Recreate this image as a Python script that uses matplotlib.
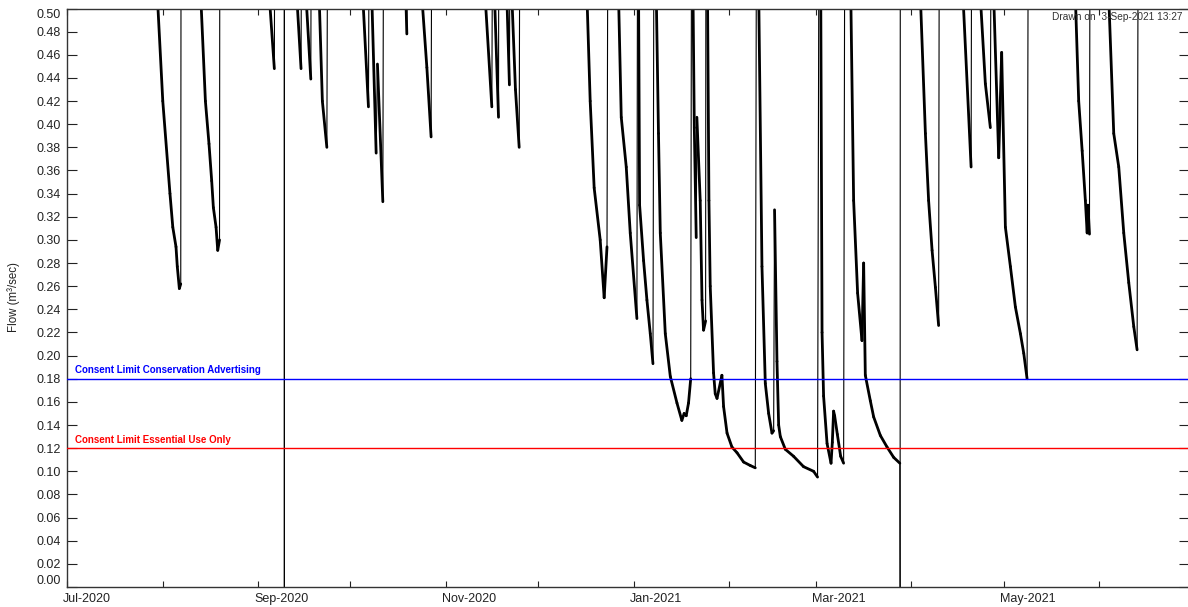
import matplotlib
matplotlib.use('Agg')
import matplotlib.pyplot as plt
import matplotlib.dates as mdates
from matplotlib.collections import LineCollection
from matplotlib.transforms import ScaledTranslation, blended_transform_factory
import numpy as np
import pandas as pd

# ---------------- data ----------------
times = [
    '2020-07-01 00:00',
    '2020-07-30 08:00', '2020-08-01 02:00', '2020-08-03 10:00', '2020-08-04 08:00', '2020-08-05 09:00',
    '2020-08-05 19:00', '2020-08-06 11:00', '2020-08-06 22:00', '2020-08-07 02:00',
    '2020-08-13 10:00', '2020-08-14 22:00', '2020-08-16 02:00', '2020-08-16 23:00', '2020-08-17 12:00',
    '2020-08-18 09:00', '2020-08-18 22:00', '2020-08-19 12:00', '2020-08-19 16:00',
    '2020-09-04 16:00', '2020-09-06 07:00', '2020-09-06 15:00',
    '2020-09-09 12:00', '2020-09-09 13:00', '2020-09-09 14:00',
    '2020-09-13 14:00', '2020-09-14 23:00', '2020-09-15 09:00',
    '2020-09-16 14:00', '2020-09-18 03:00', '2020-09-18 11:00',
    '2020-09-20 20:00', '2020-09-21 21:00', '2020-09-23 08:00', '2020-09-23 20:00',
    '2020-10-05 00:00', '2020-10-06 20:00', '2020-10-07 09:00', '2020-10-07 22:00', '2020-10-09 08:00',
    '2020-10-09 18:00', '2020-10-11 12:00', '2020-10-11 22:00',
    '2020-10-18 23:00', '2020-10-19 07:00', '2020-10-19 12:00',
    '2020-10-24 04:00', '2020-10-25 19:00', '2020-10-27 04:00', '2020-10-27 14:00',
    '2020-11-13 17:00', '2020-11-15 21:00', '2020-11-16 10:00', '2020-11-16 18:00', '2020-11-18 01:00',
    '2020-11-18 06:00',
    '2020-11-20 18:00', '2020-11-21 14:00', '2020-11-22 01:00', '2020-11-22 09:00', '2020-11-23 13:00',
    '2020-11-24 18:00', '2020-11-25 04:00',
    '2020-12-16 18:00', '2020-12-17 19:00', '2020-12-19 02:00', '2020-12-21 01:00', '2020-12-22 08:00',
    '2020-12-23 06:00', '2020-12-23 18:00',
    '2020-12-27 00:00', '2020-12-27 21:00', '2020-12-29 12:00', '2020-12-30 19:00', '2021-01-01 23:00',
    '2021-01-02 07:00',
    '2021-01-02 12:00', '2021-01-02 20:00', '2021-01-04 03:00', '2021-01-05 05:00', '2021-01-06 07:00',
    '2021-01-07 04:00', '2021-01-07 16:00',
    '2021-01-08 06:00', '2021-01-08 23:00', '2021-01-09 13:00', '2021-01-11 04:00', '2021-01-12 19:00',
    '2021-01-14 23:00', '2021-01-16 13:00', '2021-01-17 07:00', '2021-01-17 23:00', '2021-01-18 17:00',
    '2021-01-19 10:00', '2021-01-19 20:00',
    '2021-01-20 04:00', '2021-01-20 14:00', '2021-01-21 05:00', '2021-01-21 10:00', '2021-01-22 12:00',
    '2021-01-23 02:00', '2021-01-23 14:00', '2021-01-24 06:00', '2021-01-24 10:00',
    '2021-01-24 21:00', '2021-01-25 08:00', '2021-01-25 18:00', '2021-01-26 20:00', '2021-01-27 09:00',
    '2021-01-27 23:00', '2021-01-29 13:00', '2021-01-30 02:00', '2021-01-31 05:00', '2021-02-01 19:00',
    '2021-02-03 11:00', '2021-02-05 14:00', '2021-02-07 18:00', '2021-02-09 09:00', '2021-02-09 22:00',
    '2021-02-10 12:00', '2021-02-11 13:00', '2021-02-12 15:00', '2021-02-13 17:00', '2021-02-14 19:00',
    '2021-02-15 08:00', '2021-02-15 15:00', '2021-02-16 10:00', '2021-02-16 23:00', '2021-02-17 12:00',
    '2021-02-19 03:00', '2021-02-21 19:00', '2021-02-25 01:00', '2021-02-28 07:00', '2021-03-01 14:00',
    '2021-03-02 06:00',
    '2021-03-02 15:00', '2021-03-03 01:00', '2021-03-03 13:00', '2021-03-04 16:00', '2021-03-05 23:00',
    '2021-03-06 09:00', '2021-03-06 19:00', '2021-03-07 03:00', '2021-03-08 00:00', '2021-03-09 02:00',
    '2021-03-10 01:00', '2021-03-10 14:00',
    '2021-03-12 09:00', '2021-03-13 07:00', '2021-03-14 14:00', '2021-03-16 00:00', '2021-03-16 13:00',
    '2021-03-17 02:00', '2021-03-18 17:00', '2021-03-19 19:00', '2021-03-21 23:00', '2021-03-24 03:00',
    '2021-03-26 07:00', '2021-03-28 07:00', '2021-03-28 09:00', '2021-03-28 11:00',
    '2021-04-03 23:00', '2021-04-05 14:00', '2021-04-06 15:00', '2021-04-07 18:00', '2021-04-08 20:00',
    '2021-04-09 21:00', '2021-04-10 05:00',
    '2021-04-17 19:00', '2021-04-20 10:00', '2021-04-20 18:00',
    '2021-04-23 10:00', '2021-04-25 01:00', '2021-04-26 16:00', '2021-04-27 04:00',
    '2021-04-27 18:00', '2021-04-29 09:00', '2021-04-30 08:00', '2021-05-01 13:00', '2021-05-03 04:00',
    '2021-05-04 19:00', '2021-05-06 10:00', '2021-05-07 12:00', '2021-05-08 14:00', '2021-05-09 04:00',
    '2021-05-24 06:00', '2021-05-25 08:00', '2021-05-26 11:00', '2021-05-27 12:00', '2021-05-28 02:00',
    '2021-05-28 08:00', '2021-05-28 20:00', '2021-05-29 03:00',
    '2021-06-04 02:00', '2021-06-05 17:00', '2021-06-07 08:00', '2021-06-08 23:00', '2021-06-10 14:00',
    '2021-06-12 05:00', '2021-06-13 07:00', '2021-06-13 20:00',
    '2021-07-01 00:00',
]
flow = [
    0.80,
    0.51, 0.420, 0.340, 0.311, 0.294,
    0.277, 0.258, 0.262, 0.80,
    0.51, 0.420, 0.383, 0.351, 0.328,
    0.311, 0.291, 0.300, 0.80,
    0.51, 0.448, 0.80,
    0.80, 0.00, 0.80,
    0.51, 0.448, 0.80,
    0.51, 0.439, 0.80,
    0.51, 0.420, 0.380, 0.80,
    0.51, 0.415, 0.80, 0.51, 0.375,
    0.452, 0.333, 0.80,
    0.51, 0.478, 0.80,
    0.51, 0.449, 0.389, 0.80,
    0.51, 0.415, 0.80, 0.51, 0.406,
    0.80,
    0.51, 0.434, 0.80, 0.51, 0.430,
    0.380, 0.80,
    0.51, 0.420, 0.345, 0.300, 0.250,
    0.294, 0.80,
    0.51, 0.406, 0.363, 0.306, 0.232,
    0.80,
    0.51, 0.330, 0.282, 0.248, 0.219,
    0.193, 0.80,
    0.51, 0.392, 0.306, 0.219, 0.182,
    0.159, 0.144, 0.150, 0.148, 0.159,
    0.180, 0.80,
    0.51, 0.397, 0.302, 0.406, 0.334,
    0.248, 0.222, 0.230, 0.80,
    0.51, 0.334, 0.260, 0.185, 0.167,
    0.163, 0.183, 0.156, 0.133, 0.121,
    0.116, 0.108, 0.105, 0.103, 0.80,
    0.51, 0.277, 0.176, 0.150, 0.133,
    0.135, 0.326, 0.195, 0.140, 0.130,
    0.119, 0.113, 0.104, 0.100, 0.095,
    0.80,
    0.51, 0.220, 0.165, 0.124, 0.107,
    0.125, 0.152, 0.148, 0.132, 0.113,
    0.107, 0.80,
    0.51, 0.334, 0.254, 0.213, 0.280,
    0.183, 0.161, 0.147, 0.131, 0.121,
    0.112, 0.107, 0.000, 0.80,
    0.51, 0.392, 0.334, 0.291, 0.259,
    0.226, 0.80,
    0.51, 0.363, 0.80,
    0.51, 0.435, 0.397, 0.80,
    0.51, 0.371, 0.462, 0.311, 0.277,
    0.242, 0.219, 0.202, 0.180, 0.80,
    0.51, 0.420, 0.377, 0.334, 0.306,
    0.330, 0.305, 0.80,
    0.51, 0.392, 0.363, 0.306, 0.263,
    0.225, 0.205, 0.80,
    0.80,
]

month_ticks = ['2020-07-01', '2020-08-01', '2020-09-01', '2020-10-01', '2020-11-01', '2020-12-01',
               '2021-01-01', '2021-02-01', '2021-03-01', '2021-04-01', '2021-05-01', '2021-06-01']
month_labels = ['Jul-2020', '', 'Sep-2020', '', 'Nov-2020', '', 'Jan-2021', '', 'Mar-2021', '',
                'May-2021', '']
y_ticks = [0.00, 0.02, 0.04, 0.06, 0.08, 0.10, 0.12, 0.14, 0.16, 0.18, 0.20, 0.22, 0.24,
           0.26, 0.28, 0.30, 0.32, 0.34, 0.36, 0.38, 0.40, 0.42, 0.44, 0.46, 0.48, 0.50]

limit_conservation = 0.18
limit_essential = 0.12
label_conservation = 'Consent Limit Conservation Advertising'
label_essential = 'Consent Limit Essential Use Only'
drawn_text = 'Drawn on  3-Sep-2021 13:27'
y_title = 'Flow (m\u00b3/sec)'
x_start, x_end = '2020-07-01', '2021-06-30'
y_min, y_max = 0.0, 0.50

# ---------------- figure ----------------
plt.rcParams['font.family'] = ['Liberation Sans', 'DejaVu Sans']
W, H, DPI = 1188, 607, 100
fig = plt.figure(figsize=(W / DPI, H / DPI), dpi=DPI)
ax = fig.add_axes([67 / W, 1 - 587 / H, 1 - 67 / W + 0.0005, (587 - 8.5) / H])

x = mdates.date2num(pd.to_datetime(times))
y = np.asarray(flow, dtype=float)
pts = np.column_stack([x, y])
segs = np.stack([pts[:-1], pts[1:]], axis=1)
rate = np.diff(y) / np.diff(x)
thin = (rate > 0.15) | (rate < -1.0)
widths = np.where(thin, 0.8, 2.0)
lc = LineCollection(segs, linewidths=widths, colors='black', capstyle='round',
                    joinstyle='round', zorder=2)
ax.add_collection(lc)

ax.axhline(limit_conservation, color='#0000ff', lw=1.0, zorder=3)
ax.axhline(limit_essential, color='#ff0000', lw=1.0, zorder=3)

trans = blended_transform_factory(ax.transAxes, ax.transData)
lab_font = ['Liberation Sans Narrow', 'Liberation Sans', 'DejaVu Sans']
ax.annotate(label_conservation, xy=(8 / 1121, limit_conservation), xycoords=trans,
            xytext=(0, 5.5), textcoords='offset pixels', va='baseline', ha='left',
            color='#0000ff', fontsize=7.0, fontweight='bold', family=lab_font, zorder=4)
ax.annotate(label_essential, xy=(8 / 1121, limit_essential), xycoords=trans,
            xytext=(0, 5.3), textcoords='offset pixels', va='baseline', ha='left',
            color='#ff0000', fontsize=7.0, fontweight='bold', family=lab_font, zorder=4)

ax.set_xlim(mdates.date2num(pd.Timestamp(x_start)), mdates.date2num(pd.Timestamp(x_end)))
ax.set_ylim(y_min, y_max)

ax.set_xticks(mdates.date2num(pd.to_datetime(month_ticks)))
ax.set_xticklabels(month_labels)
ax.set_yticks(y_ticks)
ax.set_yticklabels(['%.2f' % v for v in y_ticks])

ax.tick_params(axis='both', direction='in', top=True, right=True, colors='#222222',
               labelcolor='#222222', labelsize=9)
ax.tick_params(axis='x', length=4.3, width=0.8, pad=4.6)
ax.tick_params(axis='y', length=7.5, width=0.8, pad=4.3)

for sp in ax.spines.values():
    sp.set_color('#333333')
    sp.set_linewidth(1.0)

offset = ScaledTranslation(-4 / DPI, 0, fig.dpi_scale_trans)
for t in ax.xaxis.get_major_ticks():
    t.label1.set_horizontalalignment('left')
    t.label1.set_transform(t.label1.get_transform() + offset)
yt = ax.yaxis.get_major_ticks()
yt[0].label1.set_verticalalignment('bottom')
yt[-1].label1.set_verticalalignment('top')

fig.text(1183 / W, 1 - 17 / H, drawn_text, ha='right', va='center', fontsize=7.3, color='#333333')
fig.text(14 / W, 1 - 297 / H, y_title, rotation=90, ha='center', va='center', fontsize=8.3,
         color='#222222')

fig.savefig('out.png', dpi=DPI)
